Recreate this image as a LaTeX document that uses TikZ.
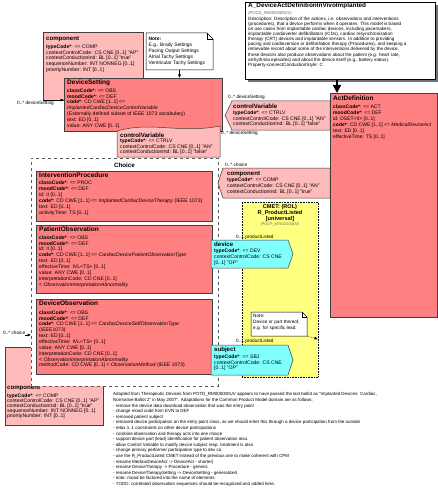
\documentclass[tikz,border=0pt]{standalone}
\usepackage{fontspec}
\setmainfont{Liberation Sans}
\usetikzlibrary{arrows.meta,calc,shadows}
\definecolor{actred}{HTML}{FF8080}
\definecolor{relpink}{HTML}{FFBABA}
\definecolor{partcyan}{HTML}{80FFFF}
\definecolor{cmetyel}{HTML}{FFFF80}
\definecolor{edge}{HTML}{404040}
\newcommand\mand[1]{\textbf{#1}}
\newcommand\voc[1]{\textit{#1}}
\tikzset{
  frame/.style={anchor=north west, inner sep=0pt, outer sep=0pt, rectangle},
  actbox/.style={frame, draw=edge, line width=0.6pt, fill=actred},
  relbox/.style={frame, draw=edge, line width=0.5pt, fill=relpink},
  ghost/.style={frame, draw=none},
  relshape/.style={draw=edge, line width=0.5pt, fill=relpink},
  partshape/.style={draw=edge, line width=0.5pt, fill=partcyan},
  attr/.style={anchor=north west, inner sep=0pt, align=left, font=\fontsize{5.1}{5.85}\selectfont},
  ttl/.style={anchor=west, inner sep=0pt, font=\bfseries\fontsize{6.5}{7}\selectfont},
  rttl/.style={anchor=west, inner sep=0pt, font=\bfseries\fontsize{6.1}{7}\selectfont},
  lbl/.style={anchor=west, inner sep=0pt, font=\fontsize{4.7}{5}\selectfont},
  notetxt/.style={anchor=north west, inner sep=0pt, align=left, font=\fontsize{4.9}{6}\selectfont},
  tip/.style={-{Latex[length=3.5pt,width=3pt]}, line width=0.5pt},
}
\begin{document}
\begin{tikzpicture}[x=1pt,y=-1pt]
\useasboundingbox (0,0) rectangle (438,500);
\fill[white] (0,0) rectangle (438,500);

% ---------- header box ----------
\node[frame, draw=black, line width=0.6pt, fill=white, minimum width=190pt, minimum height=77pt,
  drop shadow={shadow xshift=3pt, shadow yshift=-3pt, fill=black!55, opacity=1}] (hdr) at (245,2) {};
\node[anchor=north west, inner sep=0pt, font=\bfseries\fontsize{6.4}{7}\selectfont] (hdrt) at ($(hdr.north west)+(3,1)$) {A\_DeviceActDefinitionInVivoImplanted};
\node[anchor=north west, inner sep=0pt, font=\fontsize{4.2}{5}\selectfont, text=black!60] (hdrc) at ($(hdr.north west)+(3,9)$) {(POCD\_RM000000UV)};
\node[anchor=north west, inner sep=0pt, align=left, font=\fontsize{4.6}{5.1}\selectfont] (hdrd) at ($(hdr.north west)+(3,14.8)$) {Description: Description of the actions, i.e. observations and interventions\\(procedures), that a device performs when it operates. This model is based\\on use cases from implantable cardiac devices, including pacemakers,\\implantable cardioverter defibrillators (ICDs), cardiac resynchronization\\therapy (CRT) devices and implantable sensors. In addition to providing\\pacing and cardioversion or defibrillation therapy (Procedures), and keeping a\\retrievable record about some of the interventions delivered by the device,\\these devices also produce observations about the patient (e.g. heart rate,\\arrhythmia episodes) and about the device itself (e.g., battery status).\\Property-connectConductionStyle: C};

% ---------- top component ----------
\node[relbox, minimum width=100pt, minimum height=68pt] (c1) at (43,32) {};
\node[rttl] (c1t) at ($(c1.north west)+(3,7)$) {component};
\node[attr] (c1a) at ($(c1.north west)+(3,12.4)$) {\mand{typeCode*}: <= COMP\\contextControlCode: CS CNE [0..1] "AP"\\contextConductionInd: BL [0..1] "true"\\sequenceNumber: INT NONNEG [0..1]\\priorityNumber: INT [0..1]};

% ---------- note 1 ----------
\node[ghost, minimum width=67pt, minimum height=37pt] (n1) at (146,33) {};
\draw[fill=white, line width=0.5pt] (n1.north west) -- ($(n1.north east)+(-6,0)$) -- ($(n1.north east)+(0,6)$) -- (n1.south east) -- (n1.south west) -- cycle;
\draw[line width=0.4pt] ($(n1.north east)+(-6,0)$) -- ($(n1.north east)+(-6,6)$) -- ($(n1.north east)+(0,6)$);
\node[notetxt] (n1x) at ($(n1.north west)+(2.5,4)$) {\textbf{Note:}\\E.g., Brady Settings\\Pacing Output Settings\\Atrial Tachy Settings\\Ventricular Tachy Settings};

% ---------- DeviceSetting ----------
\node[actbox, minimum width=158pt, minimum height=53pt] (ds) at (64,78) {};
\node[ttl] (dst) at ($(ds.north west)+(3,4.5)$) {DeviceSetting};
\node[attr] (dsa) at ($(ds.north west)+(3,10.4)$) {\mand{classCode*}: <= OBS\\\mand{moodCode*}: <= DEF\\\mand{code*}: CD CWE [1..1] <=\\\voc{ImplantedCardiacDeviceControlVariable}\\ (Externally defined subset of IEEE 1073 vocabulary)\\text: ED [0..1]\\value: ANY CWE [0..1]};
\draw[tip] (n1.south) -- (n1.south |- ds.north);
\draw[tip] (c1.south west) -- (c1.south west -| ds.west);
\node[lbl] (l1) at ($(c1.south west)+(-26,3.5)$) {0..* deviceSetting};

% ---------- controlVariable (left) ----------
\node[ghost, minimum width=103pt, minimum height=31pt] (cvl) at (117,126) {};
\draw[relshape] ($(cvl.north west)+(0,5)$) .. controls ($(cvl.north west)+(35,-5)$) and ($(cvl.north east)+(-40,8)$) .. ($(cvl.north east)+(0,0)$) -- (cvl.south east) -- (cvl.south west) -- cycle;
\node[rttl] (cvlt) at ($(cvl.north west)+(3,9)$) {controlVariable};
\node[attr] (cvla) at ($(cvl.north west)+(3,12.4)$) {\mand{typeCode*}: <= CTRLV\\contextControlCode: CS CNE [0..1] "AN"\\contextConductionInd: BL [0..1] "false"};
\node[lbl] (l2) at ($(cvl.north east)+(1,7)$) {0..* deviceSetting};

% ---------- controlVariable (right) ----------
\node[ghost, minimum width=105pt, minimum height=29pt] (cvr) at (225,101) {};
\draw[relshape] (cvr.west) -- ($(cvr.north west)+(7,0)$) -- (cvr.north east) -- (cvr.south east) -- ($(cvr.south west)+(7,0)$) -- cycle;
\node[rttl] (cvrt) at ($(cvr.north west)+(8,5.5)$) {controlVariable};
\node[attr] (cvra) at ($(cvr.north west)+(8,9.4)$) {\mand{typeCode*}: <= CTRLV\\contextControlCode: CS CNE [0..1] "AN"\\contextConductionInd: BL [0..1] "false"};
\node[lbl] (l3) at ($(cvr.north west)+(3,-4)$) {0..* deviceSetting};

% ---------- bottom-left component ----------
\node[relbox, minimum width=98pt, minimum height=78pt] (bc) at (5,347) {};
\node[rttl] (bct) at ($(bc.north west)+(2,41)$) {component};
\node[attr, font=\fontsize{5.1}{5.1}\selectfont] (bca) at ($(bc.north west)+(2,46.4)$) {\mand{typeCode*}: <= COMP\\contextControlCode: CS CNE [0..1] "AP"\\contextConductionInd: BL [0..1] "true"\\sequenceNumber: INT NONNEG [0..1]\\priorityNumber: INT [0..1]};

% ---------- Choice ----------
\node[frame, draw=black!65, dashed, line width=0.6pt, fill=white, minimum width=187pt, minimum height=228pt] (ch) at (31,158) {};
\node[anchor=center, inner sep=0pt, font=\bfseries\fontsize{6.2}{7}\selectfont] (cht) at ($(ch.north)+(0,7)$) {Choice};
\coordinate (bcarr) at ($(bc.north west)+(20,-12)$);
\draw[tip] (bcarr) -- (bcarr -| ch.west);
\node[lbl] (l4) at ($(bcarr)+(-22,-2)$) {0..* choice};

% InterventionProcedure
\node[actbox, minimum width=176pt, minimum height=50pt] (ip) at (36,171) {};
\node[ttl] (ipt) at ($(ip.north west)+(3,4.5)$) {InterventionProcedure};
\node[attr, font=\fontsize{5.1}{6.1}\selectfont] (ipa) at ($(ip.north west)+(3,9.4)$) {\mand{classCode*}: <= PROC\\\mand{moodCode*}: <= DEF\\id: II [0..1]\\\mand{code*}: CD CWE [1..1] <= \voc{ImplantedCardiacDeviceTherapy} (IEEE 1073)\\text: ED [0..1]\\activityTime: TS [0..1]};

% PatientObservation
\node[actbox, minimum width=176pt, minimum height=68pt] (po) at (36,225) {};
\node[ttl] (pot) at ($(po.north west)+(3,4.5)$) {PatientObservation};
\node[attr] (poa) at ($(po.north west)+(3,10.4)$) {\mand{classCode*}: <= OBS\\\mand{moodCode*}: <= DEF\\id: II [0..1]\\\mand{code*}: CD CWE [1..1] <= \voc{CardiacDevicePatientObservationType}\\text: ED [0..1]\\effectiveTime: IVL<TS> [0..1]\\value: ANY CWE [0..1]\\interpretationCode: CD CNE [0..1]\\ < \voc{ObservationInterpretationAbnormality}};

% DeviceObservation
\node[actbox, minimum width=176pt, minimum height=75pt] (do) at (36,299) {};
\node[ttl] (dot) at ($(do.north west)+(3,4.5)$) {DeviceObservation};
\node[attr] (doa) at ($(do.north west)+(3,11.4)$) {\mand{classCode*}: <= OBS\\\mand{moodCode*}: <= DEF\\\mand{code*}: CD CWE [1..1] <= \voc{CardiacDeviceSelfObservationType}\\ (IEEE1073)\\text: ED [0..1]\\effectiveTime: IVL<TS> [0..1]\\value: ANY CWE [0..1]\\interpretationCode: CD CNE [0..1]\\ < \voc{ObservationInterpretationAbnormality}\\methodCode: CD CWE [0..1] < \voc{ObservationMethod} (IEEE 1073)};

% ---------- choice component (right) ----------
\node[ghost, minimum width=112pt, minimum height=30pt] (cc) at (218,168) {};
\draw[relshape] (cc.west) -- ($(cc.north west)+(5,0)$) -- (cc.north east) -- (cc.south east) -- ($(cc.south west)+(5,0)$) -- cycle;
\node[rttl] (cct) at ($(cc.north west)+(9,6)$) {component};
\node[attr] (cca) at ($(cc.north west)+(9,9.7)$) {\mand{typeCode*}: <= COMP\\contextControlCode: CS CNE [0..1] "AN"\\contextConductionInd: BL [0..1] "true"};
\node[lbl] (l5) at ($(cc.north west)+(7,-3.5)$) {0..* choice};

% ---------- CMET ----------
\node[frame, draw=black, densely dotted, line width=0.6pt, fill=cmetyel, minimum width=76pt, minimum height=175pt] (cm) at (242,202) {};
\node[anchor=north, inner sep=0pt, align=center, font=\bfseries\fontsize{5.6}{6}\selectfont] (cmt) at ($(cm.north)+(0,2.5)$) {CMET: (ROL)\\R\_ProductListed\\{[}universal{]}};
\node[anchor=north, inner sep=0pt, font=\fontsize{3.8}{4.5}\selectfont, text=black!60] (cmc) at ($(cm.north)+(0,20.5)$) {(POCP\_MT010100UV)};

% device
\node[ghost, minimum width=82pt, minimum height=28pt] (dv) at (211,240) {};
\draw[partshape] (dv.north west) -- ($(dv.north east)+(-5,0)$) -- (dv.east) -- ($(dv.south east)+(-5,0)$) -- (dv.south west) -- cycle;
\node[rttl] (dvt) at ($(dv.north west)+(3,4.5)$) {device};
\node[attr] (dva) at ($(dv.north west)+(3,8.6)$) {\mand{typeCode*}: <= DEV\\contextControlCode: CS CNE\\ {[}0..1{]} "OP"};
\node[lbl] (l6) at ($(dv.north west)+(25,-3)$) {0..1 productListed};

% subject
\node[ghost, minimum width=82pt, minimum height=30pt] (sb) at (211,345) {};
\draw[partshape] (sb.north west) -- ($(sb.north east)+(-5,0)$) -- (sb.east) -- ($(sb.south east)+(-5,0)$) -- (sb.south west) -- cycle;
\node[rttl] (sbt) at ($(sb.north west)+(3,5)$) {subject};
\node[attr] (sba) at ($(sb.north west)+(3,9.4)$) {\mand{typeCode*}: <= SBJ\\contextControlCode: CS CNE\\ {[}0..1{]} "OP"};
\node[lbl] (l7) at ($(sb.north west)+(25,-4)$) {0..1 productListed};

% note 2
\node[ghost, minimum width=56pt, minimum height=24pt] (n2) at (251,312) {};
\draw[fill=white, line width=0.5pt] (n2.north west) -- ($(n2.north east)+(-5,0)$) -- ($(n2.north east)+(0,5)$) -- (n2.south east) -- (n2.south west) -- cycle;
\draw[line width=0.4pt] ($(n2.north east)+(-5,0)$) -- ($(n2.north east)+(-5,5)$) -- ($(n2.north east)+(0,5)$);
\node[notetxt, font=\fontsize{4.7}{6}\selectfont] (n2x) at ($(n2.north west)+(2,2)$) {Note:\\Device or part thereof,\\e.g. for specific lead.};
\draw[tip, densely dotted] (n2.south east) -- ($(n2.south east -| cm.east)+(0,3)$);

% ---------- ActDefinition ----------
\node[actbox, minimum width=107pt, minimum height=224pt] (ad) at (330,93) {};
\node[ttl] (adt) at ($(ad.north west)+(3,5)$) {ActDefinition};
\node[attr, font=\fontsize{5}{6.1}\selectfont] (ada) at ($(ad.north west)+(3,11.4)$) {\mand{classCode*}: <= ACT\\\mand{moodCode*}: <= DEF\\id: DSET<II> [0..1]\\\mand{code*}: CD CWE [1..1] <= \voc{MedicalDeviceAct}\\text: ED [0..1]\\effectiveTime: TS [0..1]};
\coordinate (adarr) at ($(ad.north west)+(7,0)$);
\draw[line width=1.6pt, -{Triangle[length=8pt,width=8pt]}] (hdr.south -| adarr) -- (adarr);

% ---------- bottom text ----------
\node[anchor=north west, inner sep=0pt, align=left, font=\fontsize{4.45}{5.6}\selectfont] (bt) at (113,392.5) {Adapted from Therapeutic Devices from POTD\_RM000000UV appears to have passed the last ballot as "Implanted Devices: Cardiac,\\Normative Ballot 2" in May 2007". Adaptations for the Common Product Model domain are as follows:\\- remove the device data download observation that was the entry point\\- change mood code from EVN to DEF\\- removed patient subject\\- removed device participation on the entry point class, as we should enter this through a device participation from the outside\\- relax 1..1 constraints on other device participations\\- combine observation and therapy acts into one choice\\- support device part (lead) identification for patient observation also.\\- allow Control Variable to modify device subject resp. treatment is also\\- change primary performer participation type to dev co\\- use the R\_ProductListed CMET instead of the previous one to make coherent with CPM\\- rename MedicalDeviceAct -> DeviceAct - shorter)\\- rename DeviceTherapy -> Procedure - generic\\- rename DeviceTherapySetting -> DeviceSetting - generalized\\- note: mood be factored into the name of elements.\\- TODO: correlated observation sequences should be recognized and added here.};
\end{tikzpicture}
\end{document}
